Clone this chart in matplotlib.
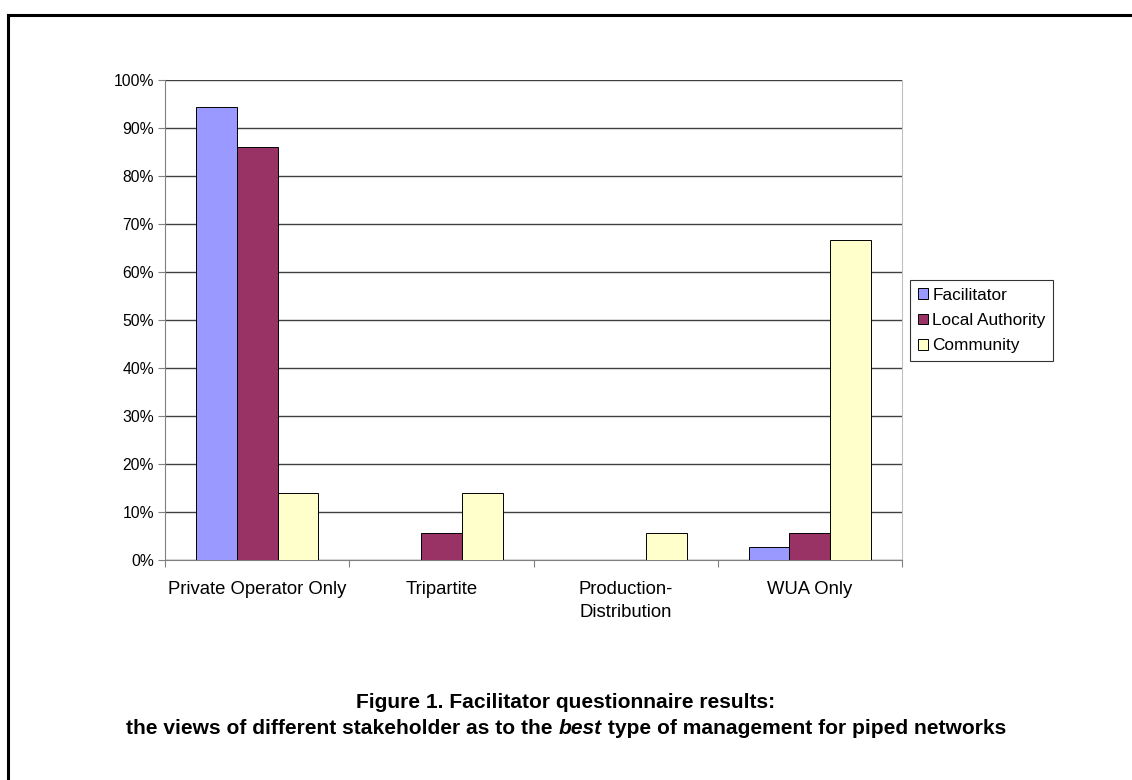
import numpy as np
import matplotlib
matplotlib.use("Agg")
import matplotlib.pyplot as plt
from matplotlib.ticker import FuncFormatter

plt.rcParams['font.family'] = ['Liberation Sans', 'DejaVu Sans']

# data (share of respondents, %)
categories = ["Private Operator Only", "Tripartite", "Production-\nDistribution", "WUA Only"]
facilitator = [94.4, 0.0, 0.0, 2.8]
local_authority = [86.1, 5.6, 0.0, 5.6]
community = [13.9, 13.9, 5.6, 66.7]
series_names = ["Facilitator", "Local Authority", "Community"]
colors = ["#9999FF", "#993366", "#FFFFCC"]

fig = plt.figure(figsize=(11.32, 7.8), dpi=100)
ax = fig.add_axes([165 / 1132, 1 - 560 / 780, (902 - 165) / 1132, 480 / 780])

x = np.arange(len(categories))
w = 0.222
for i, (vals, name, c) in enumerate(zip([facilitator, local_authority, community], series_names, colors)):
    ax.bar(x + (i - 1) * w, vals, w, color=c, edgecolor="black", linewidth=0.7,
           label=name, zorder=3)

ax.set_xlim(-0.5, len(categories) - 0.5)
ax.set_ylim(0, 100)
ax.set_yticks(np.arange(0, 101, 10))
ax.yaxis.set_major_formatter(FuncFormatter(lambda v, p: f"{v:.0f}%"))
ax.yaxis.grid(True, color="#404040", linewidth=1.0, zorder=0)
ax.set_axisbelow(True)

# category ticks between groups, labels at group centres
ax.set_xticks(np.arange(-0.5, len(categories), 1.0))
ax.set_xticklabels([])
ax.set_xticks(x, minor=True)
ax.set_xticklabels(categories, minor=True, fontsize=13.3, linespacing=1.45)
ax.tick_params(axis="x", which="minor", length=0, pad=15)
ax.tick_params(axis="x", which="major", length=5, color="#808080", direction="out")
ax.tick_params(axis="y", length=5, color="#808080", labelsize=11.3, pad=3)

for s in ["left", "bottom"]:
    ax.spines[s].set_color("#808080")
ax.spines["right"].set_color("#c0c0c0")
ax.spines["top"].set_visible(False)

leg = ax.legend(loc="upper left", bbox_to_anchor=(910 / 1132, 1 - 280 / 780),
                bbox_transform=fig.transFigure, fontsize=12.4, frameon=True,
                fancybox=False, edgecolor="black", handlelength=0.6, handleheight=0.6,
                handletextpad=0.25, borderpad=0.45, labelspacing=0.6, borderaxespad=0)
leg.get_frame().set_linewidth(0.8)

# page border (top and left edges only)
fig.add_artist(plt.Line2D([8 / 1132, 8 / 1132], [0, 1 - 15 / 780], transform=fig.transFigure,
                          color="black", linewidth=2.2))
fig.add_artist(plt.Line2D([8 / 1132, 1], [1 - 15 / 780, 1 - 15 / 780], transform=fig.transFigure,
                          color="black", linewidth=2.2))

# caption
fs = 15.1
fig.text(0.5, 1 - 703 / 780, "Figure 1. Facilitator questionnaire results:", ha="center",
         va="center", fontsize=fs, fontweight="bold")

parts = [("the views of different stakeholder as to the ", "normal"),
         ("best", "italic"),
         (" type of management for piped networks", "normal")]
fig.canvas.draw()
r = fig.canvas.get_renderer()
texts = []
for s, style in parts:
    t = fig.text(0, 1 - 729 / 780, s, ha="left", va="center", fontsize=fs,
                 fontweight="bold", fontstyle=style)
    texts.append(t)
widths = [t.get_window_extent(r).width for t in texts]
total = sum(widths)
xpos = 566 - total / 2
for t, wd in zip(texts, widths):
    t.set_x(xpos / 1132)
    xpos += wd

fig.savefig("out.png", dpi=100)
